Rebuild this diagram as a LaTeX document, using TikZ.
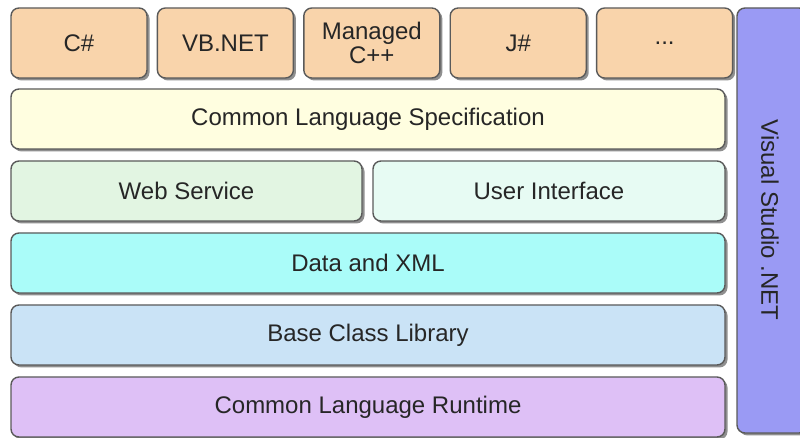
\documentclass[tikz,border=0pt]{standalone}
\usepackage{fontspec}
\setmainfont{Liberation Sans}
\usetikzlibrary{positioning,shadows}

\definecolor{langfill}{HTML}{F9D4AB}
\definecolor{clsfill}{HTML}{FFFEE0}
\definecolor{webfill}{HTML}{E2F5E2}
\definecolor{uifill}{HTML}{E7FBF3}
\definecolor{datafill}{HTML}{AAFCF9}
\definecolor{basefill}{HTML}{CAE3F6}
\definecolor{clrfill}{HTML}{DEC0F6}
\definecolor{vsfill}{HTML}{9A9AF4}
\definecolor{edge}{HTML}{5A5A5A}

\begin{document}
\begin{tikzpicture}[x=1pt, y=1pt,
  layer/.style={draw=edge, line width=1.4pt, rounded corners=8pt, inner sep=0pt,
    minimum height=60pt, align=center, text=black!85,
    font=\fontsize{24}{27}\selectfont,
    drop shadow={shadow xshift=2.5pt, shadow yshift=-2.5pt, fill=black!55, opacity=0.8}},
  lang/.style={layer, fill=langfill, minimum width=136pt, minimum height=70pt}]
  \useasboundingbox (0,0) rectangle (800,438);
  \clip (0,0) rectangle (800,438);

  % languages
  \node[lang] (CS) at (79,395) {C\#};
  \node[lang, right=9pt of CS] (VB) {VB.NET};
  \node[lang, right=9pt of VB] (CPP) {Managed\\[-3pt]C++};
  \node[lang, right=9pt of CPP] (JS) {J\#};
  \node[lang, right=9pt of JS] (MORE) {...};

  % framework layers
  \node[layer, fill=clsfill, minimum width=714pt] (CLS) at (368,319) {Common Language Specification};
  \node[layer, fill=webfill, minimum width=351pt] (WEB) at (186.5,247) {Web Service};
  \node[layer, fill=uifill, minimum width=352pt] (UI) at (549,247) {User Interface};
  \node[layer, fill=datafill, minimum width=714pt] (DATA) at (368,175) {Data and XML};
  \node[layer, fill=basefill, minimum width=714pt] (BCL) at (368,103) {Base Class Library};
  \node[layer, fill=clrfill, minimum width=714pt] (CLR) at (368,31) {Common Language Runtime};

  \node[layer, fill=vsfill, minimum width=70pt, minimum height=425pt] (VS) at (772,217.5) {};
  \node[rotate=-90, text=black!85, font=\fontsize{24}{27}\selectfont] (VSL) at (770,218) {Visual Studio .NET};
\end{tikzpicture}
\end{document}
